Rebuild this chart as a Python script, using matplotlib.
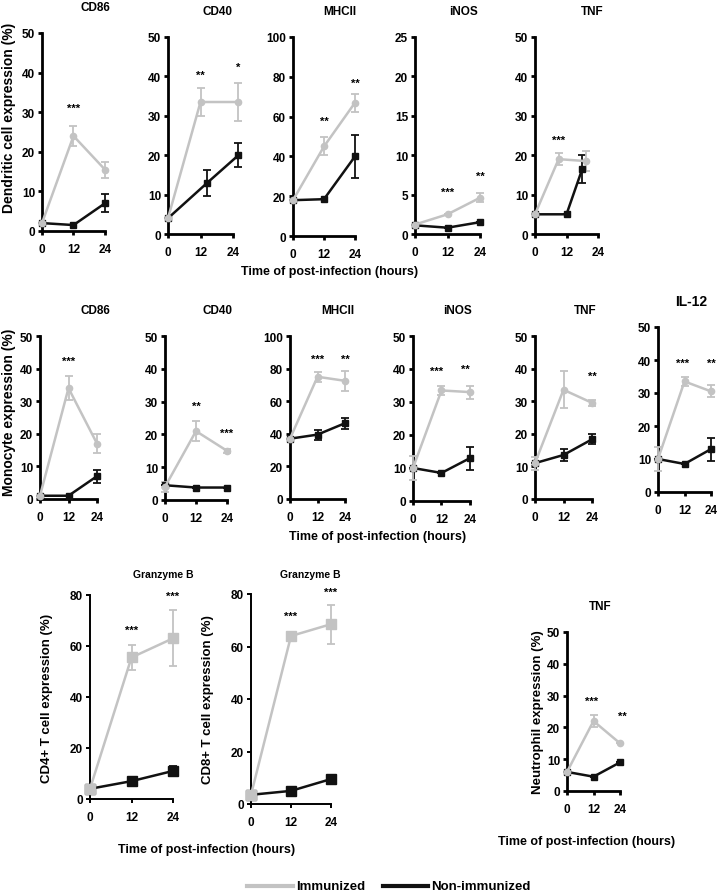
import numpy as np
import matplotlib
matplotlib.use("Agg")
import matplotlib.pyplot as plt
from matplotlib.lines import Line2D

plt.rcParams['font.family'] = ['Liberation Sans', 'DejaVu Sans']
plt.rcParams['font.weight'] = 'bold'

GRAY = '#c3c3c3'
BLACK = '#111111'

hours = [0, 12, 24]

#%% Dendritic cells
dc_cd86_imm, dc_cd86_imm_err = [2, 24, 15.5], [0, 2.5, 2]
dc_cd86_non, dc_cd86_non_err = [2, 1.5, 7], [0, 0, 2.3]
dc_cd40_x_imm, dc_cd40_x_non = [0, 12, 26], [0, 14.5, 26]
dc_cd40_imm, dc_cd40_imm_err = [4, 33.5, 33.5], [0, 3.5, 4.7]
dc_cd40_non, dc_cd40_non_err = [4, 13, 20], [0, 3.3, 3]
dc_mhc_imm, dc_mhc_imm_err = [18, 45, 67], [0, 4.5, 4.5]
dc_mhc_non, dc_mhc_non_err = [18, 18.5, 40], [0, 0, 11]
dc_inos_imm, dc_inos_imm_err = [1.2, 2.5, 4.6], [0, 0, 0.6]
dc_inos_non, dc_inos_non_err = [1.1, 0.8, 1.5], [0, 0, 0]
dc_tnf_x_imm, dc_tnf_x_non = [0, 9, 19.5], [0, 12, 18]
dc_tnf_imm, dc_tnf_imm_err = [5, 19, 18.5], [0, 1.5, 2.5]
dc_tnf_non, dc_tnf_non_err = [5, 5, 16.5], [0, 0, 3.5]

#%% Monocytes
mo_cd86_imm, mo_cd86_imm_err = [1, 34, 17], [0, 3.7, 3]
mo_cd86_non, mo_cd86_non_err = [1, 1, 7], [0, 0, 2]
mo_cd40_imm, mo_cd40_imm_err = [4, 21, 15], [1.5, 3, 0.7]
mo_cd40_non, mo_cd40_non_err = [4.5, 3.8, 3.8], [0, 0, 0]
mo_mhc_imm, mo_mhc_imm_err = [37, 75, 72.5], [0, 3, 6]
mo_mhc_non, mo_mhc_non_err = [37, 39.5, 46.5], [0, 3, 3.5]
mo_inos_imm, mo_inos_imm_err = [10, 33.5, 33], [3.5, 1.3, 2]
mo_inos_non, mo_inos_non_err = [10, 8.5, 13], [0, 0, 3.5]
mo_tnf_imm, mo_tnf_imm_err = [11, 33.5, 29.5], [2, 5.7, 1]
mo_tnf_non, mo_tnf_non_err = [11, 13.5, 18.3], [0, 1.7, 1.5]
mo_il12_imm, mo_il12_imm_err = [10, 33.5, 30.5], [3.5, 1.3, 1.8]
mo_il12_non, mo_il12_non_err = [10, 8.5, 13], [0, 0, 3.5]

#%% T cells (Granzyme B) and neutrophils
cd4_imm, cd4_imm_err = [4, 55.5, 63], [0, 5, 11]
cd4_non, cd4_non_err = [4, 7, 11], [0, 0, 2]
cd8_imm, cd8_imm_err = [3.5, 64, 68.5], [0, 0, 7.5]
cd8_non, cd8_non_err = [3.5, 5, 9.5], [0, 0, 0]
neu_tnf_imm, neu_tnf_imm_err = [6, 22, 15], [0, 1.8, 0]
neu_tnf_non, neu_tnf_non_err = [6, 4.5, 9], [0, 0, 0]

W, H = 720, 895
fig = plt.figure(figsize=(W / 100, H / 100), dpi=100)


def box(l, t, r, b):
    return fig.add_axes([l / W, 1 - b / H, (r - l) / W, (b - t) / H])


def panel(pos, title, ymax, ystep, imm, imm_err, non, non_err,
          x_imm=hours, x_non=hours, stars=(), big=False, title_x=None,
          title_size=8.5):
    ax = box(*pos)
    ms = 7.5 if big else 4.5
    sw = 1.4 if big else 2.0
    for x, y, e, c, m in [(x_non, non, non_err, BLACK, 's'),
                          (x_imm, imm, imm_err, GRAY, 's' if big else 'o')]:
        ax.errorbar(x, y, yerr=e, color=c, marker=m, ms=ms, lw=1.8,
                    elinewidth=1.3, capsize=3, capthick=1.3, clip_on=False,
                    zorder=3)
    ax.set_xlim(0, 24)
    ax.set_ylim(0, ymax)
    ax.set_xticks(hours)
    ax.set_yticks(np.arange(0, ymax + 1, ystep))
    for s in ['top', 'right']:
        ax.spines[s].set_visible(False)
    for s in ['left', 'bottom']:
        ax.spines[s].set_linewidth(sw)
    ax.tick_params(width=sw, length=3, labelsize=8.5, pad=2)
    ax.tick_params(axis='x', pad=6)
    for lab in ax.get_xticklabels() + ax.get_yticklabels():
        lab.set_fontweight('bold')
    ax.patch.set_alpha(0)
    for sx, sy, st in stars:
        ax.text(sx, sy, st, ha='center', va='center', fontsize=8,
                fontweight='bold', clip_on=False)
    if title_x is not None:
        fig.text(title_x / W, 1 - (pos[1] - 26) / H, title, ha='center',
                 va='center', fontsize=title_size, fontweight='bold')
    return ax


# row 1: dendritic cells
panel((42, 34, 105, 232), 'CD86', 50, 10, dc_cd86_imm, dc_cd86_imm_err,
      dc_cd86_non, dc_cd86_non_err, stars=[(12, 31, '***')], title_x=95)
panel((168, 38, 233, 235), 'CD40', 50, 10, dc_cd40_imm, dc_cd40_imm_err,
      dc_cd40_non, dc_cd40_non_err, x_imm=dc_cd40_x_imm,
      x_non=dc_cd40_x_non, stars=[(12, 40.5, '**'), (26, 42.5, '*')],
      title_x=218)
panel((293, 38, 355, 237), 'MHCII', 100, 20, dc_mhc_imm, dc_mhc_imm_err,
      dc_mhc_non, dc_mhc_non_err,
      stars=[(12, 58, '**'), (24, 77, '**')], title_x=340)
panel((415, 38, 480, 235), 'iNOS', 25, 5, dc_inos_imm, dc_inos_imm_err,
      dc_inos_non, dc_inos_non_err,
      stars=[(12, 5.3, '***'), (24, 7.4, '**')], title_x=463)
panel((535, 38, 598, 235), 'TNF', 50, 10, dc_tnf_imm, dc_tnf_imm_err,
      dc_tnf_non, dc_tnf_non_err, x_imm=dc_tnf_x_imm, x_non=dc_tnf_x_non,
      stars=[(9, 24, '***')], title_x=592)
fig.text(9 / W, 1 - 118 / H, 'Dendritic cell expression (%)', rotation=90,
         ha='center', va='center', fontsize=10, fontweight='bold')
fig.text(330 / W, 1 - 272 / H, 'Time of post-infection (hours)',
         ha='center', va='center', fontsize=9, fontweight='bold')

# row 2: monocytes
panel((40, 337, 97, 500), 'CD86', 50, 10, mo_cd86_imm, mo_cd86_imm_err,
      mo_cd86_non, mo_cd86_non_err, stars=[(12, 42.3, '***')], title_x=95)
panel((165, 337, 227, 501), 'CD40', 50, 10, mo_cd40_imm, mo_cd40_imm_err,
      mo_cd40_non, mo_cd40_non_err,
      stars=[(12, 28.6, '**'), (24, 20.4, '***')], title_x=218)
panel((290, 337, 345, 500), 'MHCII', 100, 20, mo_mhc_imm, mo_mhc_imm_err,
      mo_mhc_non, mo_mhc_non_err,
      stars=[(12, 86, '***'), (24, 86, '**')], title_x=338)
panel((413, 337, 470, 502), 'iNOS', 50, 10, mo_inos_imm, mo_inos_imm_err,
      mo_inos_non, mo_inos_non_err,
      stars=[(10, 39.4, '***'), (22, 40, '**')], title_x=458)
panel((535, 337, 592, 500), 'TNF', 50, 10, mo_tnf_imm, mo_tnf_imm_err,
      mo_tnf_non, mo_tnf_non_err, stars=[(24, 37.7, '**')], title_x=585)
panel((658, 328, 711, 493), 'IL-12', 50, 10, mo_il12_imm, mo_il12_imm_err,
      mo_il12_non, mo_il12_non_err,
      stars=[(11, 39, '***'), (24, 39, '**')], title_x=691, title_size=10)
fig.text(9 / W, 1 - 412 / H, 'Monocyte expression (%)', rotation=90,
         ha='center', va='center', fontsize=10, fontweight='bold')
fig.text(378 / W, 1 - 537 / H, 'Time of post-infection (hours)',
         ha='center', va='center', fontsize=9, fontweight='bold')

# row 3: T cells and neutrophils
a = panel((90, 596, 173, 800), 'Granzyme B', 80, 20, cd4_imm, cd4_imm_err,
          cd4_non, cd4_non_err, big=True,
          stars=[(12, 66.3, '***'), (24, 79.6, '***')])
a.set_ylabel('CD4+ T cell expression (%)', fontsize=9.5, fontweight='bold',
             labelpad=12)
fig.text(163 / W, 1 - 575 / H, 'Granzyme B', ha='center', va='center',
         fontsize=7.5, fontweight='bold')
a = panel((251, 595, 331, 805), 'Granzyme B', 80, 20, cd8_imm, cd8_imm_err,
          cd8_non, cd8_non_err, big=True,
          stars=[(12, 71.6, '***'), (24, 81, '***')])
a.set_ylabel('CD8+ T cell expression (%)', fontsize=9.5, fontweight='bold',
             labelpad=12)
fig.text(310 / W, 1 - 575 / H, 'Granzyme B', ha='center', va='center',
         fontsize=7.5, fontweight='bold')
fig.text(207 / W, 1 - 850 / H, 'Time of post-infection (hours)',
         ha='center', va='center', fontsize=9, fontweight='bold')

a = panel((567, 633, 620, 792), 'TNF', 50, 10, neu_tnf_imm, neu_tnf_imm_err,
          neu_tnf_non, neu_tnf_non_err,
          stars=[(11, 28.3, '***'), (25, 23.6, '**')], title_x=600)
a.set_ylabel('Neutrophil expression (%)', fontsize=9.5, fontweight='bold',
             labelpad=2)
fig.text(587 / W, 1 - 842 / H, 'Time of post-infection (hours)',
         ha='center', va='center', fontsize=9, fontweight='bold')

# legend
ly = 1 - 887 / H
fig.add_artist(Line2D([247 / W, 293 / W], [ly, ly], color=GRAY, lw=3))
fig.text(296 / W, ly, 'Immunized', va='center', fontsize=9.5,
         fontweight='bold')
fig.add_artist(Line2D([383 / W, 428 / W], [ly, ly], color=BLACK, lw=3))
fig.text(431 / W, ly, 'Non-immunized', va='center', fontsize=9.5,
         fontweight='bold')

fig.savefig('out.png', dpi=100)
